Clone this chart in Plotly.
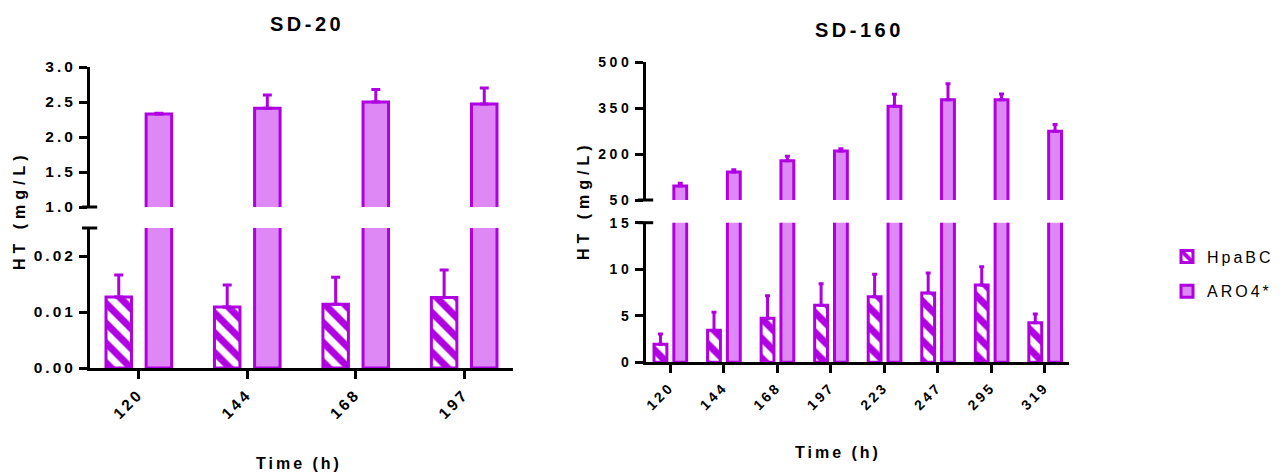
import plotly.graph_objects as go

# ---------------- data ----------------
times_sd20 = ["120", "144", "168", "197"]
hpabc_sd20 = [0.0127, 0.0109, 0.0114, 0.0126]
hpabc_sd20_err = [0.0039, 0.0039, 0.0048, 0.0049]
aro4_sd20 = [2.33, 2.41, 2.50, 2.47]
aro4_sd20_err = [0.01, 0.19, 0.18, 0.23]

times_sd160 = ["120", "144", "168", "197", "223", "247", "295", "319"]
hpabc_sd160 = [1.94, 3.44, 4.73, 6.13, 7.05, 7.45, 8.31, 4.26]
hpabc_sd160_err = [1.10, 1.94, 2.43, 2.32, 2.41, 2.15, 1.97, 0.93]
aro4_sd160 = [96, 141, 178, 210, 356, 377, 377, 274]
aro4_sd160_err = [9, 8, 15, 7, 39, 52, 19, 22]

sd20_low_ticks = [0.0, 0.01, 0.02]
sd20_high_ticks = [1.0, 1.5, 2.0, 2.5, 3.0]
sd160_low_ticks = [0, 5, 10, 15]
sd160_high_ticks = [50, 200, 350, 500]

series_names = ["HpaBC", "ARO4*"]
titles = ["SD-20", "SD-160"]
y_title = "HT (mg/L)"
x_title = "Time (h)"

# ---------------- style ----------------
W, H = 1283, 473
PURPLE = "#B000E2"
LIGHT = "#DD88F5"
FONT = "Liberation Sans, Arial, sans-serif"


def sp(t, ls=2.0):
    return f"<span style='letter-spacing:{ls}px'>{t}</span>"


def px_x(p):
    return p / W


def px_y(p):
    return 1 - p / H


fig = go.Figure()


def add_bars(x, vals, errs, name, xa, ya, width, offset, hatched, showlegend, caps):
    marker = dict(line=dict(color=PURPLE, width=3))
    if hatched:
        marker.update(color="white",
                      pattern=dict(shape="\\", fgcolor=PURPLE, bgcolor="white",
                                   fgopacity=1, size=14, solidity=0.5))
    else:
        marker.update(color=LIGHT)
    err = None
    if errs is not None:
        err = dict(type="data", symmetric=False, array=errs,
                   arrayminus=[0] * len(errs), color=PURPLE,
                   thickness=3, width=caps)
    fig.add_trace(go.Bar(x=x, y=vals, name=sp(name, 3), marker=marker,
                         error_y=err, width=width, offset=offset,
                         xaxis=xa, yaxis=ya, showlegend=showlegend,
                         legendgroup=name))


# SD-20 : lower (x, y), upper (x2, y2)
add_bars(times_sd20, hpabc_sd20, hpabc_sd20_err, series_names[0], "x", "y",
         0.235, -0.3025, True, True, 4.5)
add_bars(times_sd20, aro4_sd20, None, series_names[1], "x", "y",
         0.235, 0.0675, False, True, 4.5)
add_bars(times_sd20, aro4_sd20, aro4_sd20_err, series_names[1], "x2", "y2",
         0.235, 0.0675, False, False, 4.5)

# SD-160 : lower (x3, y3), upper (x4, y4)
add_bars(times_sd160, hpabc_sd160, hpabc_sd160_err, series_names[0], "x3", "y3",
         0.24, -0.30, True, False, 2.5)
add_bars(times_sd160, aro4_sd160, None, series_names[1], "x3", "y3",
         0.24, 0.07, False, False, 2.5)
add_bars(times_sd160, aro4_sd160, aro4_sd160_err, series_names[1], "x4", "y4",
         0.24, 0.07, False, False, 2.5)

left_dom = [px_x(82), px_x(505)]
right_dom = [px_x(638), px_x(1061)]

tick_font_l = dict(family=FONT, size=15.5, color="black", weight="bold")
tick_font_r = dict(family=FONT, size=14, color="black", weight="bold")

axis_common = dict(showline=True, linecolor="black", linewidth=3,
                   ticks="outside", tickcolor="black", tickwidth=3,
                   showgrid=False, zeroline=False, fixedrange=True)

fig.update_layout(
    width=W, height=H,
    margin=dict(l=0, r=0, t=0, b=0, autoexpand=False),
    paper_bgcolor="white", plot_bgcolor="white",
    barmode="overlay",
    showlegend=True,
    legend=dict(x=px_x(1159), y=px_y(266), xanchor="left", yanchor="middle",
                font=dict(family=FONT, size=16, color="black"),
                bgcolor="rgba(0,0,0,0)", tracegroupgap=11),
    xaxis=dict(domain=left_dom, range=[-0.45, 3.45], anchor="y",
               type="category", ticklen=8, tickangle=-45,
               tickvals=times_sd20, ticktext=[sp(t, 3) for t in times_sd20],
               tickfont=tick_font_l, **axis_common),
    xaxis2=dict(domain=left_dom, range=[-0.45, 3.45], anchor="y2",
                type="category", visible=False, matches="x"),
    yaxis=dict(domain=[px_y(360), px_y(220)], range=[0, 0.025], anchor="x",
               tickvals=sd20_low_ticks,
               ticktext=[sp(f"{v:.2f}", 3) for v in sd20_low_ticks],
               ticklen=8, tickfont=tick_font_l, **axis_common),
    yaxis2=dict(domain=[px_y(199), px_y(59)], range=[1.0, 3.0], anchor="x2",
                tickvals=sd20_high_ticks,
                ticktext=[sp(f"{v:.1f}", 3) for v in sd20_high_ticks],
                ticklen=8, tickfont=tick_font_l, **axis_common),
    xaxis3=dict(domain=right_dom, range=[-0.45, 7.45], anchor="y3",
                type="category", ticklen=8, tickangle=-45,
                tickvals=times_sd160, ticktext=[sp(t, 3) for t in times_sd160],
                tickfont=tick_font_r, **axis_common),
    xaxis4=dict(domain=right_dom, range=[-0.45, 7.45], anchor="y4",
                type="category", visible=False, matches="x3"),
    yaxis3=dict(domain=[px_y(354.3), px_y(214.7)], range=[0, 15], anchor="x3",
                tickvals=sd160_low_ticks,
                ticktext=[sp(str(v), 3.5) for v in sd160_low_ticks],
                ticklen=8, tickfont=tick_font_r, **axis_common),
    yaxis4=dict(domain=[px_y(192), px_y(54)], range=[50, 500], anchor="x4",
                tickvals=sd160_high_ticks,
                ticktext=[sp(str(v), 3.5) for v in sd160_high_ticks],
                ticklen=8, tickfont=tick_font_r, **axis_common),
)

# axis-break marks: short horizontal caps at the broken ends of the y axes
shapes = []
for xa, ya, yv in [("x", "y", 1), ("x2", "y2", 0), ("x3", "y3", 1), ("x4", "y4", 0)]:
    shapes.append(dict(type="line", xref=f"{xa} domain", yref=f"{ya} domain",
                       x0=-0.019, x1=0.017, y0=yv, y1=yv,
                       line=dict(color="black", width=3)))
fig.update_layout(shapes=shapes)

ann_font = dict(family=FONT, color="black", weight="bold")
annotations = [
    dict(text=sp(titles[0], 3.5), x=px_x(299), y=px_y(16), font=dict(size=20, **ann_font)),
    dict(text=sp(titles[1], 3.5), x=px_x(851), y=px_y(22), font=dict(size=20, **ann_font)),
    dict(text=sp(y_title, 5), x=px_x(12), y=px_y(202), textangle=-90, font=dict(size=16, **ann_font)),
    dict(text=sp(y_title, 5), x=px_x(576), y=px_y(192), textangle=-90, font=dict(size=16, **ann_font)),
    dict(text=sp(x_title, 3), x=px_x(291), y=px_y(455), font=dict(size=16, **ann_font)),
    dict(text=sp(x_title, 3), x=px_x(829.5), y=px_y(444), font=dict(size=16, **ann_font)),
]
for a in annotations:
    a.update(xref="paper", yref="paper", showarrow=False,
             xanchor="center", yanchor="middle")
fig.update_layout(annotations=annotations)

fig.write_html("out.html")
